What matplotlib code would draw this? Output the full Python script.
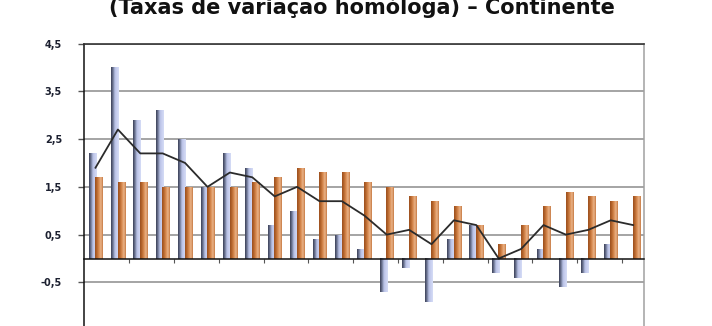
import matplotlib
matplotlib.use("Agg")
import matplotlib.pyplot as plt
import numpy as np
from matplotlib.colors import LinearSegmentedColormap

title = "(Taxas de variação homóloga) – Continente"
categories = list(range(25))
blue_vals = [2.2, 4.0, 2.9, 3.1, 2.5, 1.5, 2.2, 1.9, 0.7, 1.0, 0.4, 0.5, 0.2,
             -0.7, -0.2, -0.9, 0.4, 0.7, -0.3, -0.4, 0.2, -0.6, -0.3, 0.3, 0.0]
orange_vals = [1.7, 1.6, 1.6, 1.5, 1.5, 1.5, 1.5, 1.6, 1.7, 1.9, 1.8, 1.8, 1.6,
               1.5, 1.3, 1.2, 1.1, 0.7, 0.3, 0.7, 1.1, 1.4, 1.3, 1.2, 1.3]
line_vals = [1.9, 2.7, 2.2, 2.2, 2.0, 1.5, 1.8, 1.7, 1.3, 1.5, 1.2, 1.2, 0.9,
             0.5, 0.6, 0.3, 0.8, 0.7, 0.0, 0.2, 0.7, 0.5, 0.6, 0.8, 0.7]
yticks = [-1.5, -0.5, 0.5, 1.5, 2.5, 3.5, 4.5]
ytick_labels = ["-1,5", "-0,5", "0,5", "1,5", "2,5", "3,5", "4,5"]

W, H = 712, 326
fig = plt.figure(figsize=(W / 100, H / 100), dpi=100)
left_px, right_px, top_px, bottom_px = 84.3, 644.3, 43.5, 330.2
ax = fig.add_axes([left_px / W, 1 - bottom_px / H, (right_px - left_px) / W,
                   (bottom_px - top_px) / H])

x = np.arange(len(categories))
bw = 0.32
off = 0.15
blue_bars = ax.bar(x - off, blue_vals, bw, color="none", zorder=3)
orange_bars = ax.bar(x + off, orange_vals, bw, color="none", zorder=4)

blue_cmap = LinearSegmentedColormap.from_list(
    "b", ["#3a3f55", "#6f7795", "#b9c2e6", "#c9d0f0", "#d6dcf6"])
orange_cmap = LinearSegmentedColormap.from_list(
    "o", ["#9a4f1e", "#b8672e", "#d98c52", "#eab48a", "#c67a42"])
grad = np.linspace(0, 1, 64).reshape(1, -1)


def paint(bars, cmap, z):
    for b in bars:
        bx, by, w, h = b.get_x(), b.get_y(), b.get_width(), b.get_height()
        if h == 0:
            continue
        y0, y1 = min(by, by + h), max(by, by + h)
        ax.imshow(grad, cmap=cmap, extent=[bx, bx + w, y0, y1],
                  aspect="auto", zorder=z, interpolation="bilinear")


paint(blue_bars, blue_cmap, 3)
paint(orange_bars, orange_cmap, 4)

ax.plot(x, line_vals, color="#2b2b2b", lw=1.3, zorder=6)

ax.set_xlim(-0.5, len(categories) - 0.5)
ax.set_ylim(-1.5, 4.5)
ax.set_yticks(yticks)
ax.set_yticklabels(ytick_labels, fontsize=7, fontweight="bold",
                   color="#1c2030")
ax.tick_params(axis="y", length=4, width=1, color="#555555", pad=12)
ax.yaxis.grid(True, color="#8c8c8c", lw=1.1, zorder=0)
ax.set_axisbelow(True)

ax.spines["bottom"].set_position(("data", 0))
ax.spines["bottom"].set_color("#111111")
ax.spines["bottom"].set_linewidth(1.1)
ax.spines["bottom"].set_zorder(7)
ax.set_xticks(np.arange(1.5, len(categories) - 0.5, 2))
ax.set_xticklabels([])
ax.tick_params(axis="x", length=3, width=0.8, color="#555555", direction="out")
ax.spines["left"].set_color("#111111")
ax.spines["left"].set_linewidth(1.1)
ax.spines["top"].set_color("#333333")
ax.spines["top"].set_linewidth(1.2)
ax.spines["right"].set_color("#a0a0a0")
ax.spines["right"].set_linewidth(1.1)

fig.text(362 / W, 1 - 14.5 / H, title, ha="center", va="baseline",
         fontsize=15, fontweight="bold", color="#111111")

fig.savefig("out.png", dpi=100)
